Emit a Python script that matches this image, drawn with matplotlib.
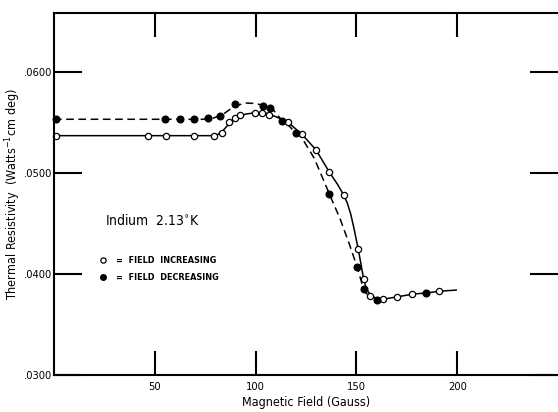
import matplotlib
matplotlib.use("Agg")
import matplotlib.pyplot as plt

plt.rcParams['font.family'] = ['DejaVu Sans']
plt.rcParams['font.stretch'] = 'condensed'

# Data points (field in gauss, resistivity)
inc_x = [1, 46.4, 55.7, 69.4, 79.2, 83.1, 86.6, 89.6, 92.5, 99.5, 103.3, 106.6,
         116.3, 122.9, 130.0, 136.6, 143.7, 150.9, 153.6, 156.7, 163.4, 170.3,
         177.7, 190.9]
inc_y = [.05367, .05367, .05367, .05367, .05367, .05397, .05499, .05545, .05572,
         .05594, .05594, .05572, .05499, .05380, .05226, .05005, .04780, .04246,
         .03950, .03781, .03754, .03774, .03804, .03828]

dec_x = [1, 55, 62.4, 69.6, 76.2, 82.2, 89.6, 103.6, 106.9, 113.0, 120.1, 136.6,
         150.4, 153.6, 160.3, 184.6]
dec_y = [.05529, .05529, .05529, .05529, .05539, .05559, .05680, .05661, .05644,
         .05512, .05390, .04790, .04066, .03848, .03742, .03808]

# Hand-drawn fit curves, vertices
solid_x = [0, 78, 81, 84, 87, 90, 95, 100, 105, 110, 116, 123, 130, 136.6, 140.5,
           143.7, 145.5, 147.2, 148.8, 150.9, 152.5, 153.6, 155, 157, 160, 164,
           170, 178, 185, 191, 199.5]
solid_y = [.05367, .05367, .05375, .05420, .05490, .05540, .05580, .05594, .05590,
           .05555, .05500, .05380, .05226, .05005, .04890, .04780, .04700, .04590,
           .04450, .04246, .04071, .03950, .03850, .03790, .03755, .03752, .03772,
           .03800, .03812, .03828, .03840]

dash_x = [0, 74, 79, 84, 89.6, 95, 100, 104, 108, 113, 116.5, 120.1, 122.6, 129.1,
          136.6, 142, 146.4, 150.4, 152.7, 154.2, 156]
dash_y = [.05529, .05529, .05540, .05580, .05660, .05690, .05685, .05665, .05640,
          .05520, .05465, .05390, .05357, .05143, .04790, .04540, .04300, .04066,
          .03907, .03825, .03785]

xticks = [50, 100, 150, 200]
yticks = [.0300, .0400, .0500, .0600]
ytick_labels = ['.0300', '.0400', '.0500', '.0600']

fig = plt.figure(figsize=(5.58, 4.12), dpi=100)
ax = fig.add_axes([54 / 558, 37 / 412, 1 - 54 / 558, 362 / 412])

ax.plot(solid_x, solid_y, color='black', lw=1.1)
ax.plot(dash_x, dash_y, color='black', lw=1.1, dashes=(5, 3))
ax.plot(inc_x, inc_y, 'o', ms=4.5, mfc='white', mec='black', mew=0.9, clip_on=False)
ax.plot(dec_x, dec_y, 'o', ms=4.8, mfc='black', mec='black', clip_on=False)

ax.set_xlim(0, 250)
ax.set_ylim(.0300, .0658)

ax.set_xticks(xticks)
ax.set_xticklabels([str(t) for t in xticks])
ax.set_yticks(yticks)
ax.set_yticklabels(ytick_labels)
ax.tick_params(direction='in', top=True, right=True, width=1.5, labelsize=8)
ax.tick_params(axis='x', length=17, pad=5)
ax.tick_params(axis='y', length=20, pad=1)

ax.spines['right'].set_visible(False)
for s in ['left', 'top', 'bottom']:
    ax.spines[s].set_linewidth(1.5)

ax.set_xlabel('Magnetic Field (Gauss)', fontsize=9, labelpad=3)
ax.set_ylabel(r'Thermal Resistivity  (Watts$^{-1}$cm deg)', fontsize=9, labelpad=1)

ax.text(25.5, .04485, r'Indium  2.13$^{\circ}$K', fontsize=10)
ax.plot([24.5], [.04135], 'o', ms=3.8, mfc='white', mec='black', mew=0.9)
ax.plot([24.5], [.03965], 'o', ms=4, mfc='black', mec='black')
ax.text(31, .04135, '=  FIELD  INCREASING', fontsize=6.5, fontweight='bold', va='center')
ax.text(31, .03965, '=  FIELD  DECREASING', fontsize=6.5, fontweight='bold', va='center')

fig.savefig('out.png', dpi=100)
